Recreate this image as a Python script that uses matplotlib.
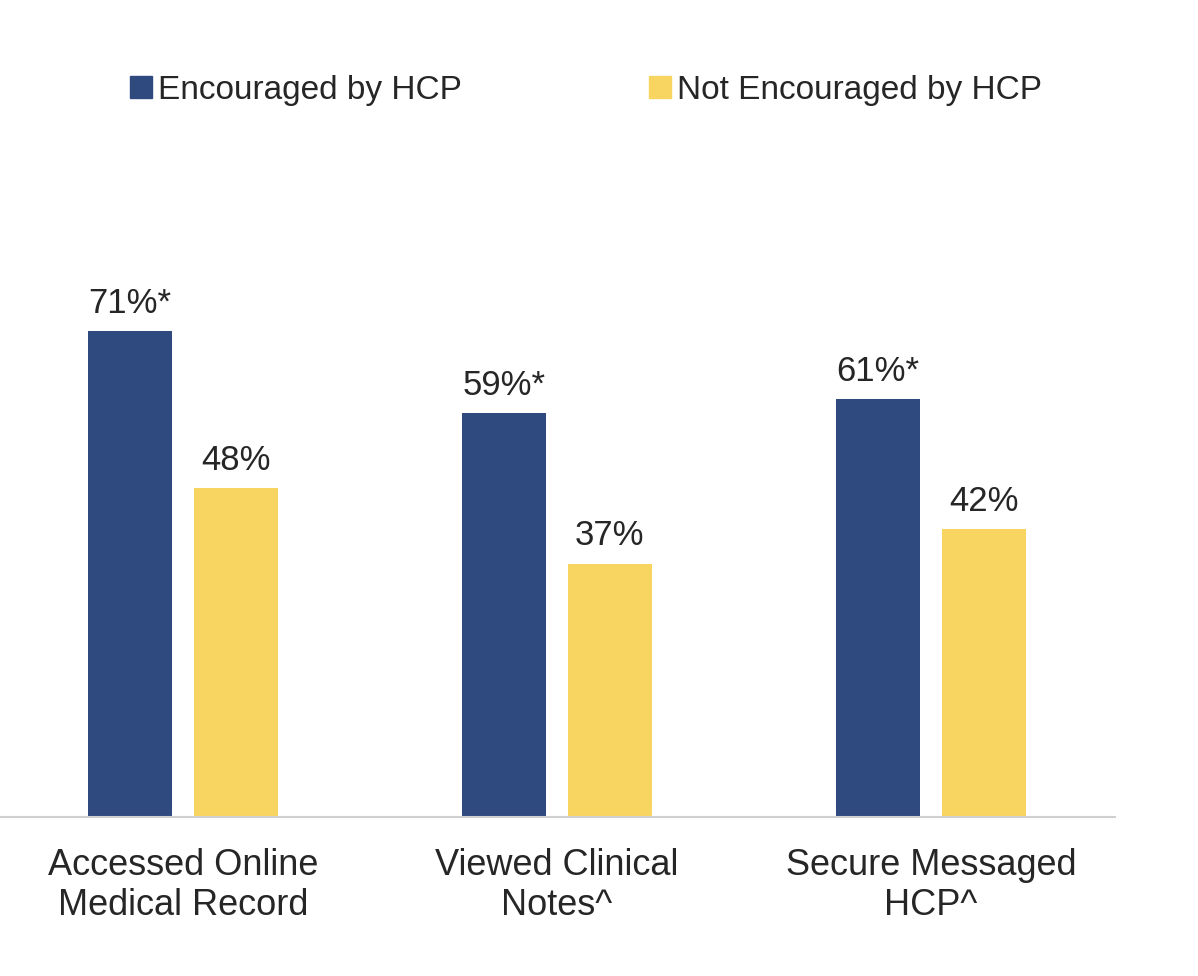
import matplotlib.pyplot as plt
import matplotlib.patches as mpatches
import numpy as np

categories = ['Accessed Online\nMedical Record', 'Viewed Clinical\nNotes^', 'Secure Messaged\nHCP^']
encouraged = [71, 59, 61]
not_encouraged = [48, 37, 42]
enc_labels = ['71%*', '59%*', '61%*']
not_labels = ['48%', '37%', '42%']
series_names = ['Encouraged by HCP', 'Not Encouraged by HCP']

blue = '#2F4A7E'
yellow = '#F8D561'
text_color = '#262626'

plt.rcParams['font.family'] = 'Liberation Sans'

fig = plt.figure(figsize=(11.98, 9.76), dpi=100)
ax = fig.add_axes([0, 1 - 817 / 976, 1115 / 1198, 685 / 976])

x = np.arange(len(categories))
w = 84 / 374
b1 = ax.bar(x - 0.1417, encouraged, w, color=blue)
b2 = ax.bar(x + 0.1404, not_encouraged, w, color=yellow)

for bars, labels in ((b1, enc_labels), (b2, not_labels)):
    for rect, lab in zip(bars, labels):
        ax.annotate(lab, (rect.get_x() + rect.get_width() / 2, rect.get_height()),
                    xytext=(0, 8), textcoords='offset points', ha='center', va='bottom',
                    fontsize=25, color=text_color)

ax.set_xlim(-183 / 374, (1115 - 183) / 374)
ax.set_ylim(0, 100)
ax.set_xticks(x)
ax.set_xticklabels(categories, fontsize=26, color=text_color, linespacing=1.2)
ax.tick_params(axis='x', length=0, pad=22)
ax.set_yticks([])
for s in ['top', 'right', 'left']:
    ax.spines[s].set_visible(False)
ax.spines['bottom'].set_color('#D0D0D0')
ax.spines['bottom'].set_linewidth(1.5)

handles = [mpatches.Patch(color=blue), mpatches.Patch(color=yellow)]
fig.legend(handles, series_names, loc='center left', ncol=2,
           bbox_to_anchor=(100 / 1198, 1 - 90 / 976), frameon=False,
           fontsize=24, handlelength=0.65, handleheight=0.65, handletextpad=0.2,
           columnspacing=5.6, labelcolor=text_color)

fig.savefig('out.png', dpi=100, facecolor='white')
